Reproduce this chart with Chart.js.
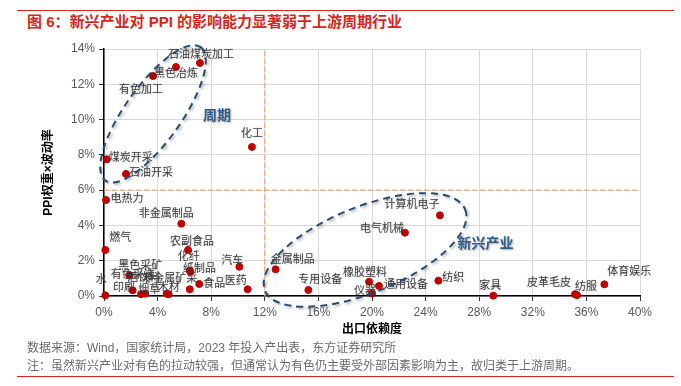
<!DOCTYPE html>
<html>
<head>
<meta charset="utf-8">
<script src="https://cdn.jsdelivr.net/npm/chart.js@4.4.1/dist/chart.umd.min.js"></script>
<style>
  html, body { margin: 0; padding: 0; background: #fff; }
  #wrap { position: relative; width: 681px; height: 386px; overflow: hidden; }
  #wrap canvas { position: absolute; left: 0; top: 0; }
  .rule { position: absolute; left: 17px; width: 657px; height: 1px; background: #d9251c; }
  .title { position: absolute; left: 27px; top: 10px; line-height: 20px; font: bold 15px 'Liberation Sans', 'Noto Sans CJK SC', sans-serif; color: #d9251c; white-space: nowrap; }
  .note { position: absolute; left: 27px; line-height: 16px; font: 12px 'Liberation Sans', 'Noto Sans CJK SC', sans-serif; color: #6b6b6b; white-space: nowrap; }
</style>
</head>
<body>
<div id="wrap">
  <div class="rule" style="top:10px"></div>
  <div class="title">图 6：新兴产业对 PPI 的影响能力显著弱于上游周期行业</div>
  <canvas id="c" width="681" height="386"></canvas>
  <div class="note" style="top:338px">数据来源：Wind，国家统计局，2023 年投入产出表，东方证券研究所</div>
  <div class="note" style="top:356px">注：虽然新兴产业对有色的拉动较强，但通常认为有色仍主要受外部因素影响为主，故归类于上游周期。</div>
  <div class="rule" style="top:376px"></div>
</div>
<script>
// ---- data ----
const industries = ['石油煤炭加工','黑色冶炼','有色加工','化工','煤炭开采','石油开采','电热力','非金属制品','燃气','农副食品',
  '化纤','纸制品','汽车','医药','食品','非金属矿采','酒饮料','木材','烟草','印刷','有色采选','黑色采矿','水',
  '金属制品','专用设备','橡胶塑料','仪器','通用设备','电气机械','计算机电子','纺织','家具','皮革毛皮','纺服','体育娱乐'];
// x: 出口依赖度 (%)
const exportDep = [7.16,5.37,3.66,11.04,0.2,1.64,0.15,5.77,0.1,6.27,
  6.4,6.45,10.1,10.72,7.11,6.4,4.68,4.83,3.08,2.76,2.14,1.89,0.1,
  12.81,15.25,19.78,20.0,20.52,22.46,25.07,24.95,29.05,35.15,35.3,37.34];
// y: PPI权重×波动率 (%)
const ppiVol = [13.21,12.98,12.47,8.45,7.75,6.92,5.44,4.1,2.61,2.61,
  1.44,1.36,1.66,0.38,0.68,0.38,0.13,0.1,0.13,0.1,0.32,1.17,0.04,
  1.51,0.34,0.81,0.15,0.57,3.59,4.57,0.87,0.02,0.1,0.05,0.66];
const xTicks = [0,4,8,12,16,20,24,28,32,36,40];
const yTicks = [0,2,4,6,8,10,12,14];
const cutX = 12;   // 出口依赖度分界
const cutY = 6;    // PPI影响分界

// label placement (pixel offsets of label centre from its point)
const labelOffsets = {
  '石油煤炭加工':[1,-9], '黑色冶炼':[0,6], '有色加工':[-12,13], '化工':[0,-14], '煤炭开采':[24,-2],
  '石油开采':[25,-2], '电热力':[21,-2], '非金属制品':[-15,-11], '燃气':[15,-13], '农副食品':[4,-9],
  '化纤':[-1,-15], '纸制品':[9,-4], '汽车':[-7,-7], '医药':[-12,-9], '食品':[15,-1], '非金属矿采':[-20,-11],
  '酒饮料':[-23,-17], '有色采选':[0,-17], '黑色采矿':[11,-11], '印刷':[-17,-7], '烟草':[4,-5], '木材':[0,-7],
  '水':[-4,-16], '金属制品':[17,-11], '专用设备':[12,-11], '橡胶塑料':[-4,-10], '仪器':[-7,-4],
  '通用设备':[27,-2], '电气机械':[-23,-5], '计算机电子':[-28,-12], '纺织':[15,-4], '家具':[-3,-11],
  '皮革毛皮':[-26,-12], '纺服':[9,-9], '体育娱乐':[25,-14]
};
// group rings: centre in data units, radii in px
const groups = [
  { name: '周期', cx: 3.66, cy: 10.32, rx: 82, ry: 28, rot: -54.5, tx: 8.43, ty: 10.26 },
  { name: '新兴产业', cx: 19.48, cy: 2.61, rx: 108, ry: 43, rot: -22, tx: 28.47, ty: 3.0 }
];

const FONT = "'Liberation Sans', 'Noto Sans CJK SC', sans-serif";
const ORANGE = '#f2a97a';

const pointLabels = {
  id: 'pointLabels',
  afterDatasetsDraw(chart) {
    const ctx = chart.ctx;
    const meta = chart.getDatasetMeta(2);
    ctx.save();
    ctx.font = "11px 'Noto Sans CJK SC', sans-serif";
    ctx.fillStyle = '#404040';
    ctx.textAlign = 'center';
    ctx.textBaseline = 'middle';
    ctx.shadowColor = 'rgba(0,0,0,0.25)';
    ctx.shadowBlur = 2;
    meta.data.forEach((pt, i) => {
      const off = labelOffsets[industries[i]] || [0, -10];
      ctx.fillText(industries[i], pt.x + off[0], pt.y + off[1]);
    });
    ctx.restore();
  },
  afterDraw(chart) {
    const ctx = chart.ctx, sx = chart.scales.x, sy = chart.scales.y;
    groups.forEach(g => {
      ctx.save();
      ctx.shadowColor = 'rgba(0,0,0,0.35)';
      ctx.shadowBlur = 3;
      ctx.shadowOffsetX = 1.5;
      ctx.shadowOffsetY = 1.5;
      ctx.strokeStyle = '#2c4b6e';
      ctx.lineWidth = 2;
      ctx.setLineDash([7, 5]);
      ctx.beginPath();
      ctx.ellipse(sx.getPixelForValue(g.cx), sy.getPixelForValue(g.cy), g.rx, g.ry, g.rot * Math.PI / 180, 0, Math.PI * 2);
      ctx.stroke();
      ctx.setLineDash([]);
      ctx.shadowOffsetX = 1;
      ctx.shadowOffsetY = 1;
      ctx.shadowBlur = 2;
      ctx.font = "bold 14px 'Noto Sans CJK SC', sans-serif";
      ctx.fillStyle = '#2f5d8c';
      ctx.textAlign = 'center';
      ctx.textBaseline = 'middle';
      ctx.fillText(g.name, sx.getPixelForValue(g.tx), sy.getPixelForValue(g.ty));
      ctx.restore();
    });
  }
};

new Chart(document.getElementById('c'), {
  type: 'scatter',
  data: {
    datasets: [
      { data: [{x: cutX, y: yTicks[0]}, {x: cutX, y: yTicks.at(-1)}], showLine: true, borderColor: ORANGE,
        borderWidth: 1.3, borderDash: [5, 3], pointRadius: 0 },
      { data: [{x: xTicks[0], y: cutY}, {x: xTicks.at(-1), y: cutY}], showLine: true, borderColor: ORANGE,
        borderWidth: 1.3, borderDash: [5, 3], pointRadius: 0 },
      { data: exportDep.map((x, i) => ({x, y: ppiVol[i]})), backgroundColor: '#c00000', borderColor: '#c00000',
        pointRadius: 3.5, clip: false }
    ]
  },
  options: {
    responsive: false,
    animation: false,
    layout: { padding: { left: 36, top: 49, right: 41, bottom: 50 } },
    plugins: { legend: { display: false }, tooltip: { enabled: false } },
    scales: {
      x: {
        type: 'linear', min: xTicks[0], max: xTicks.at(-1),
        afterBuildTicks: s => { s.ticks = xTicks.map(v => ({value: v})); },
        afterFit: s => { s.height = 40; },
        ticks: { font: { family: FONT, size: 12 }, color: '#595959', padding: 4, callback: v => v + '%' },
        grid: { color: '#d9d9d9', tickLength: 5, tickColor: '#333' },
        border: { color: '#000', width: 1.5 },
        title: { display: true, text: '出口依赖度', color: '#000', padding: 0,
          font: { family: "'Noto Sans CJK SC', sans-serif", size: 12, weight: 'bold', lineHeight: 1.3 } }
      },
      y: {
        type: 'linear', min: yTicks[0], max: yTicks.at(-1),
        afterBuildTicks: s => { s.ticks = yTicks.map(v => ({value: v})); },
        afterFit: s => { s.width = 104 - 36; },
        ticks: { font: { family: FONT, size: 12 }, color: '#595959', padding: 4, callback: v => v + '%' },
        grid: { color: '#d9d9d9', tickLength: 5, tickColor: '#333' },
        border: { color: '#000', width: 1.5 },
        title: { display: true, text: 'PPI权重×波动率', color: '#000', padding: { top: 5 },
          font: { family: FONT, size: 12, weight: 'bold', lineHeight: 1.2 } }
      }
    }
  },
  plugins: [pointLabels]
});
</script>
</body>
</html>
